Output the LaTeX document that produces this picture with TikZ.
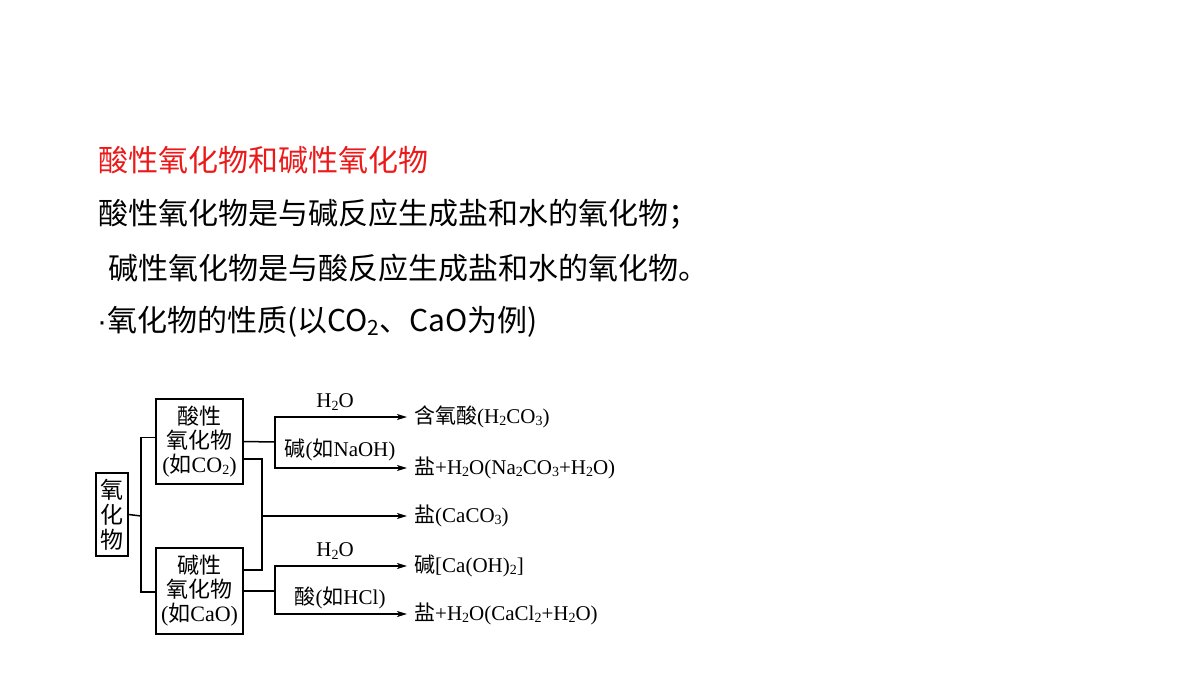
\documentclass[tikz,border=0pt]{standalone}
\usepackage{fontspec}
\setmainfont{Liberation Serif}
\newfontfamily\cjk{Noto Sans CJK SC}
\newfontfamily\lsans{Liberation Sans}
\usetikzlibrary{arrows.meta}
\definecolor{headred}{RGB}{235,25,25}
\newcommand\dn[1]{\raisebox{-0.22ex}{\fontsize{14}{14}\selectfont #1}}
\newcommand\hdn[1]{\raisebox{-0.25ex}{\fontsize{21}{21}\selectfont #1}}
\begin{document}
\begin{tikzpicture}[x=1pt,y=-1pt,
  head/.style={anchor=west,inner sep=0pt,font=\cjk\fontsize{30}{36}\selectfont},
  box/.style={draw,line width=1.5pt,inner sep=0pt,align=center,font=\fontsize{22}{26}\selectfont},
  lbl/.style={inner sep=0pt,font=\fontsize{21}{24}\selectfont},
  res/.style={anchor=west,inner sep=0pt,font=\fontsize{21}{24}\selectfont},
  ln/.style={line width=1.5pt},
  arr/.style={line width=1.5pt,-{Stealth[length=10pt,width=6pt,inset=2.5pt]}}]
\useasboundingbox (0,0) rectangle (1200,675);
% header text
\node[head,text=headred] (h1) at (98,160) {酸性氧化物和碱性氧化物};
\node[head] (h2) at (98,214) {酸性氧化物是与碱反应生成盐和水的氧化物；};
\node[head] (h3) at (108,268) {碱性氧化物是与酸反应生成盐和水的氧化物。};
\node[head] (h4) at (97,322) {{\lsans ·}氧化物的性质(以CO\hdn{2}、CaO为例)};
% boxes
\node[box,minimum width=32pt,minimum height=83pt] (oxide) at (112,514.5) {{\cjk\fontsize{23}{26}\selectfont 氧}\\[-1pt]{\cjk\fontsize{23}{26}\selectfont 化}\\[-1pt]{\cjk\fontsize{23}{26}\selectfont 物}};
\node[box,minimum width=87pt,minimum height=85pt] (acid) at (199.5,441.5) {{\cjk 酸性}\\[-2pt]{\cjk 氧化物}\\[-2pt]({\cjk 如}CO\dn{2})};
\node[box,minimum width=87pt,minimum height=86pt] (basic) at (199.5,591) {{\cjk 碱性}\\[-2pt]{\cjk 氧化物}\\[-2pt]({\cjk 如}CaO)};
% results
\node[res] (t1) at (407,417) {\hspace{7pt}{\cjk 含氧酸}(H\dn{2}CO\dn{3})};
\node[res] (t2) at (407,468) {\hspace{7pt}{\cjk 盐}+H\dn{2}O(Na\dn{2}CO\dn{3}+H\dn{2}O)};
\node[res] (t3) at (407,516) {\hspace{7pt}{\cjk 盐}(CaCO\dn{3})};
\node[res] (t4) at (407,566) {\hspace{7pt}{\cjk 碱}[Ca(OH)\dn{2}]};
\node[res] (t5) at (407,614) {\hspace{7pt}{\cjk 盐}+H\dn{2}O(CaCl\dn{2}+H\dn{2}O)};
% labels
\node[lbl] (l1) at (335,402) {H\dn{2}O};
\node[lbl] (l2) at (340,450) {{\cjk 碱}({\cjk 如}NaOH)};
\node[lbl] (l3) at (335,551) {H\dn{2}O};
\node[lbl] (l4) at (340,598) {{\cjk 酸}({\cjk 如}HCl)};
% junctions
\coordinate (lb) at (141,516);
\coordinate (ja) at (275,442);
\coordinate (jm) at (262,516);
\coordinate (jb) at (275,591);
% connectors
\draw[ln] (oxide.east) -- (lb);
\draw[ln] ([yshift=4pt]acid.west) -| (lb) |- ([yshift=-1pt]basic.west);
\draw[ln] (acid.east) -- (ja);
\draw[arr] (ja) |- (t1.west);
\draw[arr] (ja) |- (t2.west);
\draw[ln] ([yshift=-17.5pt]acid.east) -| (jm);
\draw[ln] (jm) |- ([yshift=21pt]basic.east);
\draw[arr] (jm) -- (t3.west);
\draw[ln] (basic.east) -- (jb);
\draw[arr] (jb) |- (t4.west);
\draw[arr] (jb) |- (t5.west);
\end{tikzpicture}
\end{document}
